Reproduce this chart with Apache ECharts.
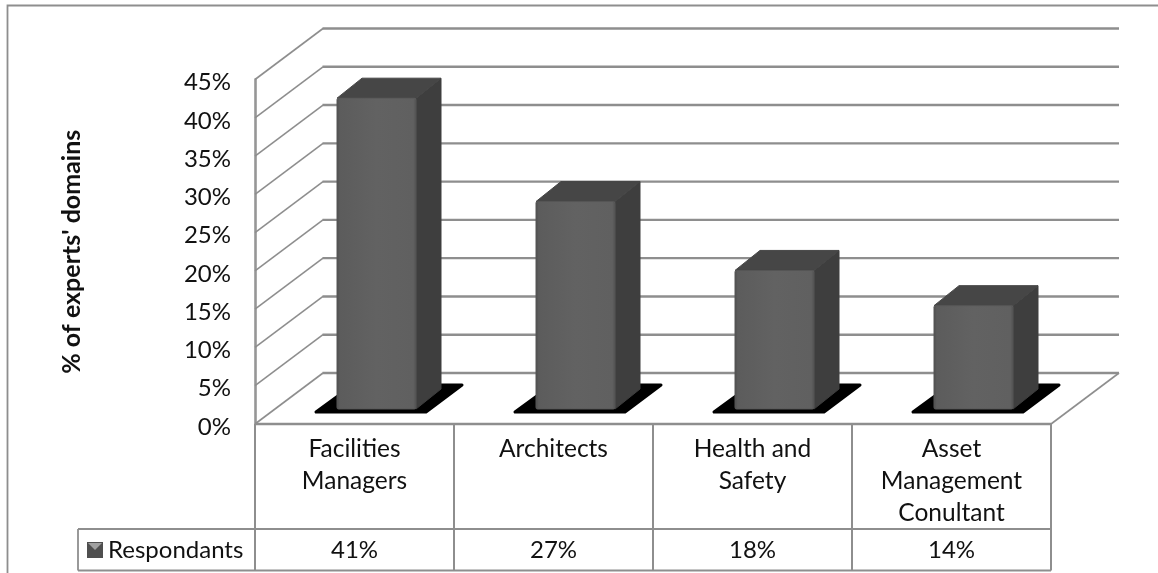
<!DOCTYPE html>
<html>
<head>
<meta charset="utf-8">
<style>html,body{margin:0;padding:0;background:#fff}#c{width:1158px;height:573px}</style>
<script src="https://cdn.jsdelivr.net/npm/echarts@6/dist/echarts.min.js"></script>
</head>
<body>
<div id="c"></div>
<script>
const categories = ["Facilities\nManagers", "Architects", "Health and\nSafety", "Asset\nManagement\nConultant"];
const seriesName = "Respondants";
const barValues = [40.6, 27.1, 18.1, 13.5];
const gridTicks = [0, 5, 10, 15, 20, 25, 30, 35, 40, 45];
const yAxisName = "% of experts' domains";

const FONT = "Lato";
const LINE = "#8e8e8e";
const chart = echarts.init(document.getElementById("c"));
const DX = 68, DY = -51;            // wall depth
const line = (x1, y1, x2, y2, w) => ({type: "line", shape: {x1, y1, x2, y2}, style: {stroke: LINE, lineWidth: w || 1.8, fill: null}});

function renderGrid(params, api) {
  const cs = params.coordSys, v = api.value(1);
  const y = api.coord([0, v])[1];
  const kids = [
    line(cs.x, y, cs.x + DX, y + DY, 1.6),
    line(cs.x + DX - 0.5, y + DY, cs.x + cs.width + DX, y + DY, 2.4)
  ];
  if (v === 0) kids.push(line(cs.x + cs.width, y, cs.x + cs.width + DX, y + DY, 1.6));
  return {type: "group", children: kids};
}

function renderTable(params, api) {
  const cs = params.coordSys, y0 = cs.y + cs.height, band = api.size([1, 0])[0];
  const cx = api.coord([api.value(0), 0])[0];
  const rowTop = y0 + 105, rowBot = y0 + 146.5;
  const kids = [
    line(cx - band / 2, y0, cx + band / 2, y0, 2.6),
    line(cx - band / 2, rowTop, cx + band / 2, rowTop),
    line(cx - band / 2, rowBot, cx + band / 2, rowBot, 2),
    line(cx + band / 2, y0, cx + band / 2, rowBot, 2)
  ];
  if (params.dataIndex === 0) {
    kids.push(line(cx - band / 2, y0, cx - band / 2, rowBot, 2));
    kids.push(line(78, rowTop, cx - band / 2, rowTop));
    kids.push(line(78, rowBot, cx - band / 2, rowBot, 2));
    kids.push(line(78, rowTop, 78, rowBot));
  }
  return {type: "group", children: kids};
}

function renderBar(params, api) {
  const i = api.value(0), v = api.value(1);
  const p0 = api.coord([i, 0]), pv = api.coord([i, v]);
  const h = p0[1] - pv[1];
  const L = p0[0] - 17.5, W = 79, B = p0[1] - 15, T = B - h, dx = 25, dy = -20;
  const label = Math.round(v) + "%";
  const front = new echarts.graphic.LinearGradient(0, 0, 1, 0, [
    {offset: 0, color: "#4c4c4c"}, {offset: 0.04, color: "#5c5c5c"},
    {offset: 0.5, color: "#626262"}, {offset: 0.96, color: "#606060"}, {offset: 1, color: "#505050"}]);
  return {type: "group", children: [
    {type: "polygon", shape: {points: [[L - 21, p0[1] - 12], [L + 89, p0[1] - 12], [L + 125, p0[1] - 39], [L + 16, p0[1] - 39]]},
     style: {fill: "#000", stroke: "#000", lineWidth: 3, lineJoin: "round"}},
    {type: "polygon", shape: {points: [[L + W, T], [L + W + dx, T + dy], [L + W + dx, B + dy], [L + W, B]]},
     style: {fill: "#3e3e3e", stroke: "#3e3e3e", lineWidth: 1, lineJoin: "round"}},
    {type: "polygon", shape: {points: [[L, T], [L + dx, T + dy], [L + W + dx, T + dy], [L + W, T]]},
     style: {fill: "#464646", stroke: "#464646", lineWidth: 1, lineJoin: "round"}},
    {type: "rect", shape: {x: L, y: T, width: W, height: h, r: 1.5},
     style: {fill: front, stroke: "#565656", lineWidth: 1}},
    {type: "text", style: {text: label, x: p0[0], y: p0[1] + 126, align: "center", verticalAlign: "middle",
      font: "24px " + FONT, fill: "#111"}}
  ]};
}

chart.setOption({
  animation: false,
  backgroundColor: "#fff",
  grid: {left: 255, right: 107, top: 79.5, height: 344.5, containLabel: false},
  legend: {
    data: [seriesName], left: 87, top: 538, icon: "rect", itemWidth: 16, itemHeight: 16, itemGap: 0, padding: 0,
    textStyle: {fontFamily: FONT, fontSize: 24, color: "#111"},
    selectedMode: false
  },
  xAxis: {
    type: "category", data: categories, boundaryGap: true,
    axisLine: {show: false}, axisTick: {show: false},
    axisLabel: {interval: 0, margin: 9, fontFamily: FONT, fontSize: 24.5, lineHeight: 32, color: "#111", verticalAlign: "top"}
  },
  yAxis: {
    type: "value", min: 0, max: 45, interval: 5,
    name: yAxisName, nameLocation: "middle", nameRotate: 90, nameGap: 171,
    nameTextStyle: {fontFamily: FONT, fontSize: 25, fontWeight: "bold", color: "#111"},
    axisLine: {show: true, lineStyle: {color: "#969696", width: 2.6}}, axisTick: {show: false}, splitLine: {show: false},
    axisLabel: {margin: 24, color: "#111", formatter: "{n|{value}%}",
      rich: {n: {fontFamily: FONT, fontSize: 24, color: "#111", padding: [6, 0, 0, 0]}}}
  },
  graphic: [
    {type: "polyline", silent: true, z: 0, shape: {points: [[7.5, 573], [7.5, 5.5], [1158, 5.5]]}, style: {stroke: LINE, lineWidth: 1.8, fill: null}},
    {type: "polygon", silent: true, z: 100, shape: {points: [[88, 543], [102, 543], [95, 550]]}, style: {fill: "#a0a0a0"}}
  ],
  series: [
    {name: "Gridlines", type: "custom", z: 1, renderItem: renderGrid, silent: true,
     data: gridTicks.map(t => [0, t]), encode: {x: 0, y: 1}},
    {name: "Table", type: "custom", z: 2, renderItem: renderTable, silent: true,
     data: categories.map((c, i) => [i, 0]), encode: {x: 0, y: 1}},
    {name: seriesName, type: "custom", z: 3, renderItem: renderBar, silent: true, itemStyle: {color: "#4f4f4f"},
     data: barValues.map((v, i) => [i, v]), encode: {x: 0, y: 1}}
  ]
});
</script>
</body>
</html>
